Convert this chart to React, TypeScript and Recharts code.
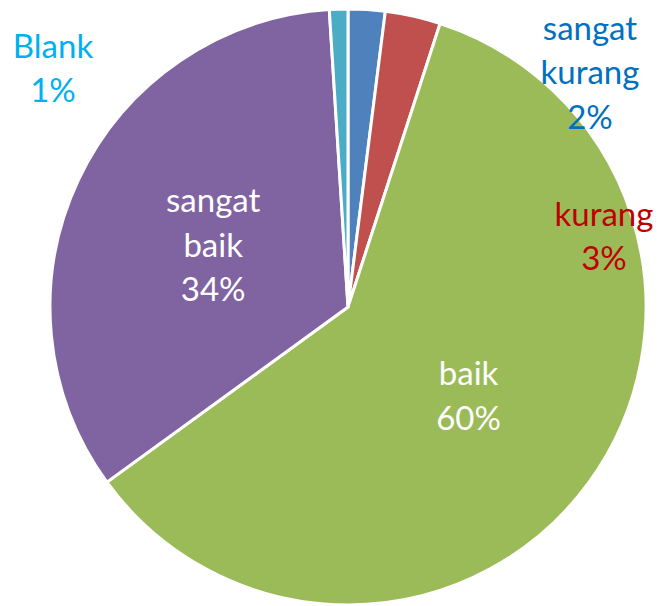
import React from "react";
import { PieChart, Pie, Cell } from "recharts";

const categories = ["sangat kurang", "kurang", "baik", "sangat baik", "Blank"];
const values = [2, 3, 60, 34, 1];
const percentLabels = ["2%", "3%", "60%", "34%", "1%"];

const sliceColors = ["#4F81BD", "#C0504D", "#9BBB59", "#8064A2", "#4BACC6"];
const labelColors = ["#0070C0", "#C00000", "#FFFFFF", "#FFFFFF", "#00B0F0"];
// label placement: inside (fraction of radius along mid-angle) or fixed offset from centre
const labelPlacement: Array<{ inside?: number; dx?: number; dy?: number }> = [
  { dx: 242, dy: -236 },
  { dx: 256, dy: -72 },
  { inside: 0.5 },
  { inside: 0.5 },
  { dx: -295, dy: -240 },
];

const data = categories.map((name, i) => ({ name, value: values[i] }));

const FONT = "Lato, 'Open Sans', sans-serif";
const LINE = 44.5;

const renderLabel = (props: any) => {
  const { cx, cy, midAngle, outerRadius, index } = props;
  const place = labelPlacement[index];
  let x: number;
  let y: number;
  if (place.inside !== undefined) {
    const r = outerRadius * place.inside;
    const rad = (-midAngle * Math.PI) / 180;
    x = cx + r * Math.cos(rad);
    y = cy + r * Math.sin(rad);
  } else {
    x = cx + (place.dx as number);
    y = cy + (place.dy as number);
  }
  const words = categories[index].split(" ");
  const lines = [...words, percentLabels[index]];
  const startY = y - ((lines.length - 1) * LINE) / 2;
  return (
    <text
      key={`lbl-${index}`}
      x={x}
      y={startY}
      textAnchor="middle"
      fill={labelColors[index]}
      fontFamily={FONT}
      fontSize={33}
    >
      {lines.map((ln, j) => (
        <tspan key={j} x={x} y={startY + j * LINE} dominantBaseline="central">
          {ln}
        </tspan>
      ))}
    </text>
  );
};

export default function App() {
  return (
    <div style={{ position: "absolute", left: 0, top: 0, width: 661, height: 606, background: "#fff" }}>
      <PieChart width={661} height={606} margin={{ top: 0, right: 0, bottom: 0, left: 0 }}>
        <Pie
          data={data}
          dataKey="value"
          nameKey="name"
          cx={348}
          cy={307}
          outerRadius={298}
          startAngle={90}
          endAngle={-270}
          stroke="#FFFFFF"
          strokeWidth={3}
          label={renderLabel}
          labelLine={false}
          isAnimationActive={false}
        >
          {data.map((d, i) => (
            <Cell key={d.name} fill={sliceColors[i]} />
          ))}
        </Pie>
      </PieChart>
    </div>
  );
}
